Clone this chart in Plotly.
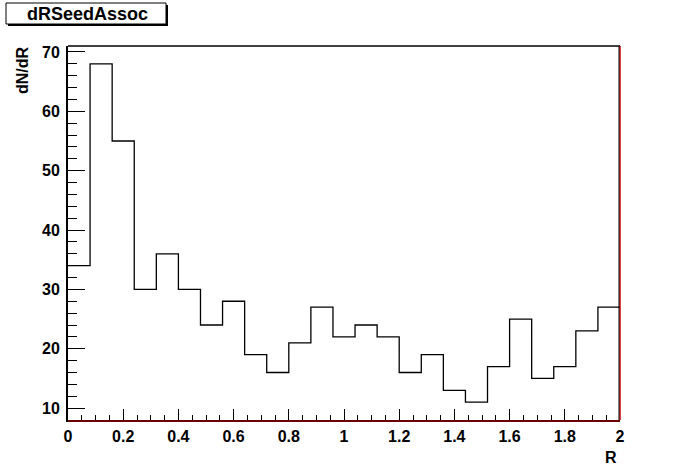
import plotly.graph_objects as go

# Histogram data: 25 bins from 0 to 2
bin_edges_lo = 0.0
bin_width = 0.08
counts = [34, 68, 55, 30, 36, 30, 24, 28, 19, 16, 21, 27, 22, 24, 22, 16, 19, 13, 11, 17, 25, 15, 17, 23, 27]
hist_title = "dRSeedAssoc"
x_title = "R"
y_title = "dN/dR"

edges = [round(bin_edges_lo + i * bin_width, 4) for i in range(len(counts) + 1)]
ys = counts + [counts[-1]]

W, H = 689, 467
L, R, T, B = 68, 620, 46, 420

def px(x):
    return (x - L) / (R - L)

def py(y):
    return (B - y) / (B - T)

FONT = dict(family="Liberation Sans, Arial, sans-serif", size=16, color="black", weight="bold")

fig = go.Figure()
fig.add_trace(go.Scatter(
    x=edges, y=ys, mode="lines", line=dict(color="black", width=1.3, shape="hv"),
    hoverinfo="skip", showlegend=False,
))

fig.update_layout(
    width=W, height=H,
    margin=dict(l=L, r=W - R, t=T, b=H - B, pad=0),
    paper_bgcolor="white", plot_bgcolor="white",
    showlegend=False,
    xaxis=dict(
        range=[0, 2], dtick=0.2, tick0=0, showgrid=False, zeroline=False,
        ticks="inside", ticklen=11, tickwidth=1, tickcolor="black",
        minor=dict(dtick=0.05, ticks="inside", ticklen=5, tickcolor="black", tickwidth=1, showgrid=False),
        showline=True, linecolor="black", linewidth=2,
        tickfont=FONT, ticklabelstandoff=1,
    ),
    yaxis=dict(
        range=[8.0, 71.0], dtick=10, tick0=0, showgrid=False, zeroline=False,
        ticks="inside", ticklen=17, tickwidth=1, tickcolor="black",
        minor=dict(dtick=2, ticks="inside", ticklen=9, tickcolor="black", tickwidth=1, showgrid=False),
        showline=True, linecolor="black", linewidth=2,
        tickfont=FONT, ticklabelstandoff=3,
    ),
    shapes=[
        # top frame
        dict(type="line", xref="paper", yref="paper", x0=0, x1=1, y0=1, y1=1,
             line=dict(color="black", width=1.5)),
        # right frame (red)
        dict(type="line", xref="paper", yref="paper", x0=1, x1=1, y0=0, y1=1,
             line=dict(color="#d00000", width=1.5)),
        dict(type="line", xref="paper", yref="paper", x0=px(R - 1), x1=px(R - 1), y0=0, y1=1,
             line=dict(color="black", width=1)),
        # bottom red line
        dict(type="line", xref="paper", yref="paper", x0=0, x1=1, y0=py(B + 1), y1=py(B + 1),
             line=dict(color="#d00000", width=1)),
        # title box shadow
        dict(type="rect", xref="paper", yref="paper", x0=px(8), x1=px(168), y0=py(26), y1=py(5),
             fillcolor="black", line=dict(width=0)),
        # title box
        dict(type="rect", xref="paper", yref="paper", x0=px(6), x1=px(166), y0=py(24), y1=py(3),
             fillcolor="white", line=dict(color="black", width=1)),
    ],
    annotations=[
        dict(text=hist_title, xref="paper", yref="paper", x=px(87), y=py(14),
             xanchor="center", yanchor="middle", showarrow=False,
             font=dict(family="Liberation Sans, Arial, sans-serif", size=18, color="black", weight="bold")),
        dict(text=x_title, xref="paper", yref="paper", x=px(619), y=py(457),
             xanchor="right", yanchor="middle", showarrow=False, font=FONT),
        dict(text=y_title, xref="paper", yref="paper", x=px(22), y=py(44),
             xanchor="center", yanchor="top", textangle=-90, showarrow=False, font=FONT),
    ],
)

fig.write_html("out.html", config={"displayModeBar": False},
               post_script="document.body.style.margin='0';")
